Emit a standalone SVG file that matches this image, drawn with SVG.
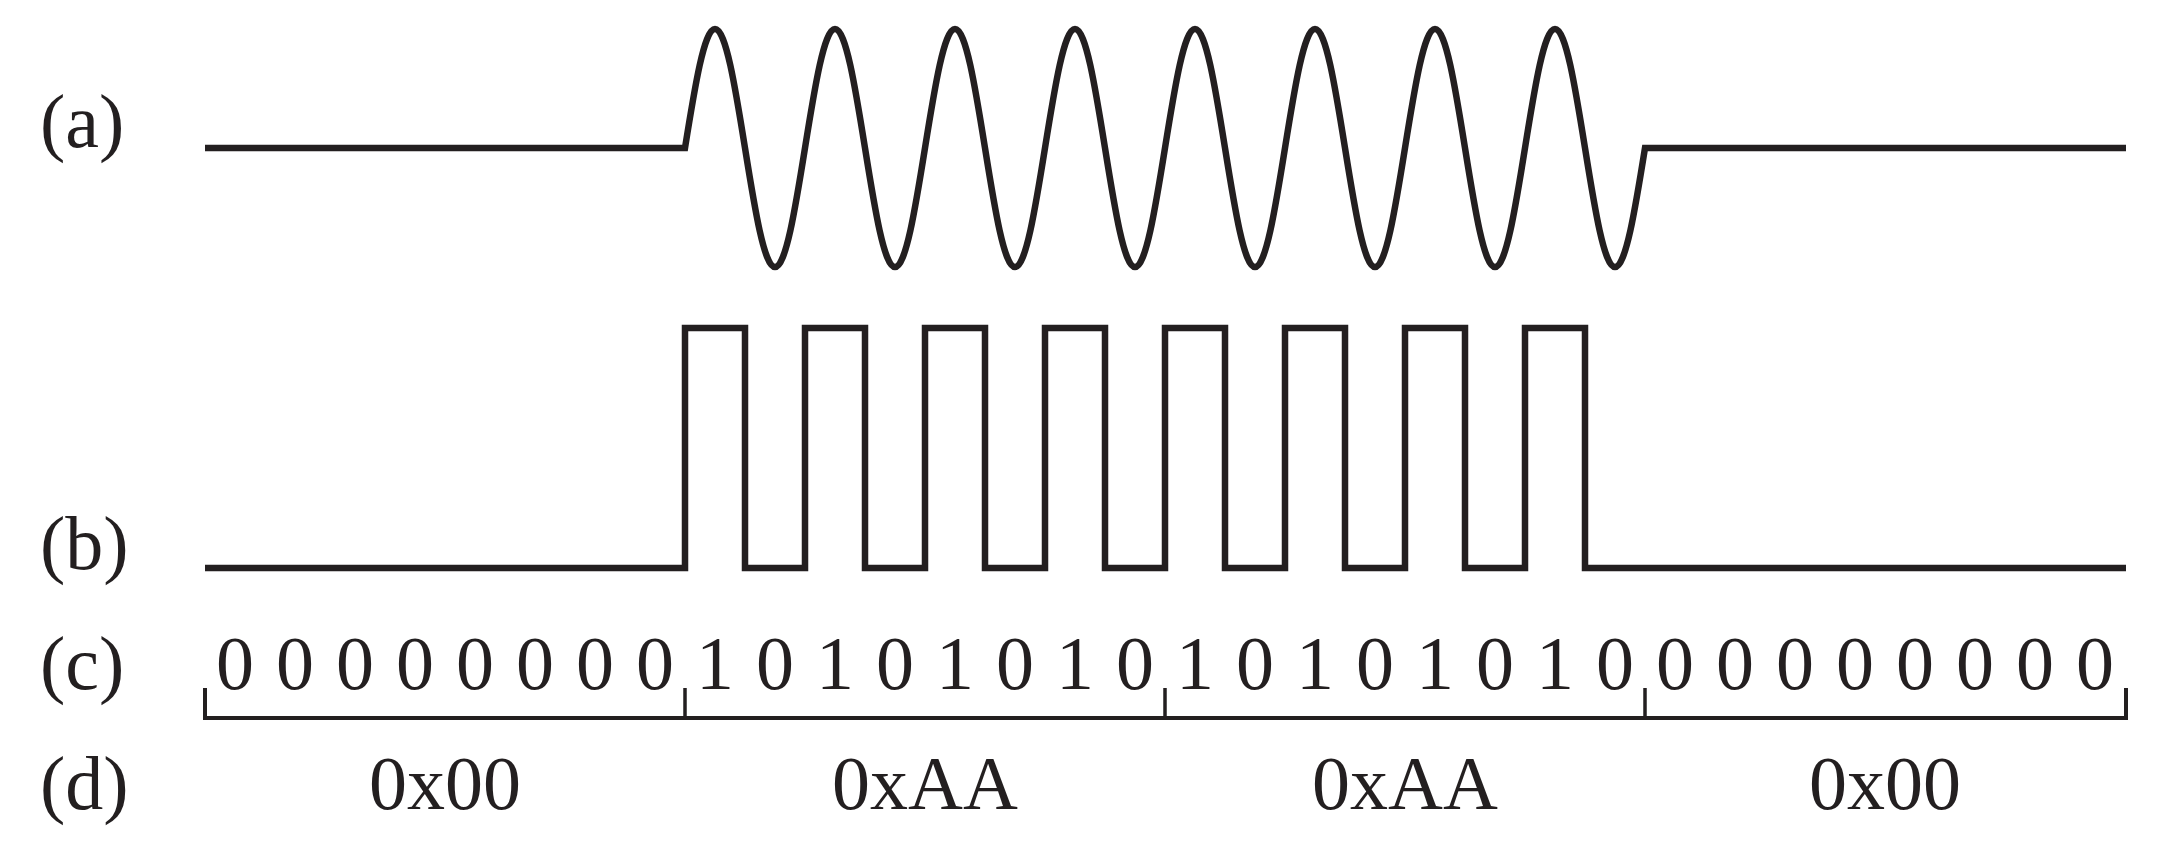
<svg xmlns="http://www.w3.org/2000/svg" width="2182" height="859" viewBox="0 0 2182 859">
<style>
.lbl{font-family:"Liberation Serif","Times New Roman",serif;font-size:76px;fill:#231f20}
.bit{font-family:"Liberation Serif","Times New Roman",serif;font-size:76px;fill:#231f20;text-anchor:middle}
.hex{font-family:"Liberation Serif","Times New Roman",serif;font-size:76px;fill:#231f20;text-anchor:middle}
.wave{fill:none;stroke:#231f20;stroke-width:6.5;stroke-linejoin:miter;stroke-linecap:butt}
.brk{fill:none;stroke:#231f20;stroke-width:4;stroke-linecap:butt}
.tick{fill:none;stroke:#231f20;stroke-width:3.5}
</style>
<rect width="2182" height="859" fill="#ffffff"/>
<g id="row-a">
<text class="lbl" x="40" y="147">(a)</text>
<path class="wave" d="M205,148 H685 C694.78,87.04 704.14,29 715,29
s20.22,58.04 30,119 s19.14,119 30,119 s20.22,-58.04 30,-119 s19.14,-119 30,-119
s20.22,58.04 30,119 s19.14,119 30,119 s20.22,-58.04 30,-119 s19.14,-119 30,-119
s20.22,58.04 30,119 s19.14,119 30,119 s20.22,-58.04 30,-119 s19.14,-119 30,-119
s20.22,58.04 30,119 s19.14,119 30,119 s20.22,-58.04 30,-119 s19.14,-119 30,-119
s20.22,58.04 30,119 s19.14,119 30,119 s20.22,-58.04 30,-119 s19.14,-119 30,-119
s20.22,58.04 30,119 s19.14,119 30,119 s20.22,-58.04 30,-119 s19.14,-119 30,-119
s20.22,58.04 30,119 s19.14,119 30,119 s20.22,-58.04 30,-119 s19.14,-119 30,-119
s20.22,58.04 30,119 s19.14,119 30,119 s20.22,-58.04 30,-119 L2126,148"/>
</g>
<g id="row-b">
<text class="lbl" x="40" y="569">(b)</text>
<path class="wave" d="M205,568 H685 V328 H745 V568 H805 V328 H865 V568 H925 V328 H985 V568 H1045 V328 H1105 V568 H1165 V328 H1225 V568 H1285 V328 H1345 V568 H1405 V328 H1465 V568 H1525 V328 H1585 V568 H2126"/>
</g>
<g id="row-c">
<text class="lbl" x="40" y="689">(c)</text>
<g>
<text class="bit" x="235" y="689">0</text><text class="bit" x="295" y="689">0</text><text class="bit" x="355" y="689">0</text><text class="bit" x="415" y="689">0</text><text class="bit" x="475" y="689">0</text><text class="bit" x="535" y="689">0</text><text class="bit" x="595" y="689">0</text><text class="bit" x="655" y="689">0</text>
<text class="bit" x="715" y="689">1</text><text class="bit" x="775" y="689">0</text><text class="bit" x="835" y="689">1</text><text class="bit" x="895" y="689">0</text><text class="bit" x="955" y="689">1</text><text class="bit" x="1015" y="689">0</text><text class="bit" x="1075" y="689">1</text><text class="bit" x="1135" y="689">0</text>
<text class="bit" x="1195" y="689">1</text><text class="bit" x="1255" y="689">0</text><text class="bit" x="1315" y="689">1</text><text class="bit" x="1375" y="689">0</text><text class="bit" x="1435" y="689">1</text><text class="bit" x="1495" y="689">0</text><text class="bit" x="1555" y="689">1</text><text class="bit" x="1615" y="689">0</text>
<text class="bit" x="1675" y="689">0</text><text class="bit" x="1735" y="689">0</text><text class="bit" x="1795" y="689">0</text><text class="bit" x="1855" y="689">0</text><text class="bit" x="1915" y="689">0</text><text class="bit" x="1975" y="689">0</text><text class="bit" x="2035" y="689">0</text><text class="bit" x="2095" y="689">0</text>
</g>
</g>
<g id="connectors">
<path class="brk" d="M205,688 V718 H2126 V688"/>
<path class="tick" d="M685,688 V718 M1165,688 V718 M1645,688 V718"/>
</g>
<g id="row-d">
<text class="lbl" x="40" y="809">(d)</text>
<text class="hex" x="445" y="809">0x00</text>
<text class="hex" x="925" y="809">0xAA</text>
<text class="hex" x="1405" y="809">0xAA</text>
<text class="hex" x="1885" y="809">0x00</text>
</g>
</svg>
